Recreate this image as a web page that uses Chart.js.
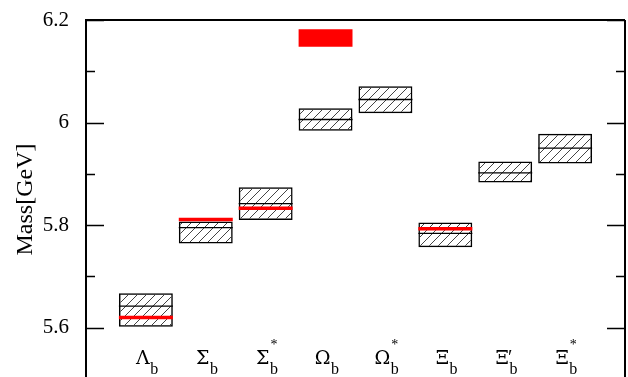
<!DOCTYPE html>
<html>
<head>
<meta charset="utf-8">
<script src="https://cdn.jsdelivr.net/npm/chart.js@4.4.1/dist/chart.umd.min.js"></script>
<style>
  html, body { margin: 0; padding: 0; background: #fff; overflow: hidden; }
  #wrap { width: 628px; height: 381px; position: relative; }
</style>
</head>
<body>
<div id="wrap"><canvas id="massChart"></canvas></div>
<script>
// baryon labels: letter, upper mark, and all have subscript b
const baryons = ["Λ", "Σ", "Σ", "Ω", "Ω", "Ξ", "Ξ", "Ξ"];
const marks = ["", "", "*", "", "*", "", "′", "*"];
const positions = [1, 2, 3, 4, 5, 6, 7, 8];

// lattice results (hatched boxes), GeV
const latticeLow = [5.602, 5.764, 5.810, 5.984, 6.018, 5.757, 5.883, 5.920];
const latticeHigh = [5.667, 5.807, 5.874, 6.028, 6.071, 5.805, 5.924, 5.978];
const latticeMid = [5.642, 5.795, 5.842, 6.006, 6.045, 5.784, 5.902, 5.950];

// experimental values (red), GeV
const expMass = [5.620, 5.811, 5.833, null, null, 5.793, null, null];
const expOmegaRange = [6.148, 6.182];
const expOmegaPos = 4;

const yTicksMajor = [5.6, 5.8, 6.0, 6.2];

function hatch() {
    const c = document.createElement("canvas");
    c.width = 9; c.height = 9;
    const g = c.getContext("2d");
    g.strokeStyle = "#444";
    g.lineWidth = 1;
    g.beginPath();
    g.moveTo(0, 9); g.lineTo(9, 0);
    g.moveTo(-1, 1); g.lineTo(1, -1);
    g.moveTo(8, 10); g.lineTo(10, 8);
    g.stroke();
    return g.createPattern(c, "repeat");
}

const isMajor = v => yTicksMajor.some(m => Math.abs(m - v) < 1e-6);

const framePlugin = {
    id: "frame",
    afterDraw(chart) {
        const { ctx, chartArea: a, scales } = chart;
        const y = scales.y;
        ctx.save();
        ctx.strokeStyle = "#000";
        ctx.lineWidth = 2;
        ctx.beginPath();
        ctx.moveTo(a.left, a.top); ctx.lineTo(a.right, a.top);
        ctx.moveTo(a.right, a.top); ctx.lineTo(a.right, a.bottom + 5);
        ctx.stroke();
        ctx.lineWidth = 1.3;
        y.ticks.forEach(t => {
            const py = Math.round(y.getPixelForValue(t.value)) + 0.5;
            const len = isMajor(t.value) ? 18 : 9;
            ctx.beginPath();
            ctx.moveTo(a.left, py); ctx.lineTo(a.left + len, py);
            ctx.moveTo(a.right, py); ctx.lineTo(a.right - len, py);
            ctx.stroke();
        });

        // category labels inside plot
        const x = scales.x;
        const base = y.getPixelForValue(5.5288);
        const greek = "19px 'DejaVu Serif'";
        const sub = "16px 'Liberation Serif'";
        ctx.fillStyle = "#000";
        ctx.textBaseline = "alphabetic";
        ctx.textAlign = "left";
        baryons.forEach((b, i) => {
            ctx.font = greek;
            const wMain = ctx.measureText(b).width;
            ctx.font = sub;
            const wSub = ctx.measureText("b").width;
            const cx = x.getPixelForValue(positions[i]) + 1;
            const left = cx - (wMain + wSub) / 2;
            ctx.font = greek;
            ctx.fillText(b, left, base);
            ctx.font = sub;
            ctx.fillText("b", left + wMain + 0.5, base + 10);
            if (marks[i] === "*") {
                ctx.font = "14px 'Liberation Serif'";
                ctx.fillText("*", left + wMain + 1, base - 15);
            } else if (marks[i]) {
                ctx.font = "20px 'Liberation Serif'";
                ctx.fillText(marks[i], left + wMain - 1, base);
            }
        });
        ctx.restore();
    }
};

const ctx = document.getElementById("massChart").getContext("2d");
new Chart(ctx, {
    type: "bar",
    data: {
        datasets: [
            {
                type: "bar",
                data: positions.map((p, i) => ({ x: p, y: [latticeLow[i], latticeHigh[i]] })),
                backgroundColor: hatch(),
                borderColor: "#000",
                borderWidth: 1.5,
                borderSkipped: false,
                barPercentage: 0.9,
                categoryPercentage: 1,
                grouped: false,
                order: 4
            },
            {
                type: "bar",
                data: [{ x: expOmegaPos, y: expOmegaRange }],
                backgroundColor: "#ff0000",
                borderWidth: 0,
                barPercentage: 0.9,
                categoryPercentage: 1,
                grouped: false,
                order: 1
            },
            {
                type: "line",
                data: positions.map((p, i) => ({ x: p, y: latticeMid[i] })),
                showLine: false,
                pointStyle: "line",
                pointRadius: 27,
                pointHoverRadius: 27,
                borderColor: "#000",
                pointBorderWidth: 1.3,
                order: 3
            },
            {
                type: "line",
                data: positions.map((p, i) => ({ x: p, y: expMass[i] })),
                showLine: false,
                pointStyle: "line",
                pointRadius: 27,
                pointHoverRadius: 27,
                borderColor: "#ff0000",
                pointBorderWidth: 3.6,
                order: 2
            }
        ]
    },
    options: {
        responsive: true,
        maintainAspectRatio: false,
        animation: false,
        events: [],
        layout: { autoPadding: false, padding: { top: 20, right: 3, bottom: 2, left: 0 } },
        plugins: {
            legend: { display: false },
            tooltip: { enabled: false }
        },
        scales: {
            x: {
                type: "linear",
                min: 0,
                max: 9,
                offset: false,
                display: false
            },
            y: {
                min: 5.5,
                max: 6.2,
                afterFit: s => { s.width = 86; s.paddingTop = 0; s.paddingBottom = 0; },
                grid: { display: false },
                border: { display: true, color: "#000", width: 2 },
                ticks: {
                    stepSize: 0.1,
                    padding: 9,
                    color: "#000",
                    font: { family: "'Liberation Serif'", size: 21 },
                    callback: v => isMajor(v) && v > 5.55 ? (Math.abs(v - 6) < 1e-6 ? "6" : v.toFixed(1)) : ""
                },
                title: {
                    display: true,
                    text: "Mass[GeV]",
                    color: "#000",
                    font: { family: "'Liberation Serif'", size: 24 },
                    padding: { top: 11, bottom: 0 }
                }
            }
        }
    },
    plugins: [framePlugin]
});
</script>
</body>
</html>
